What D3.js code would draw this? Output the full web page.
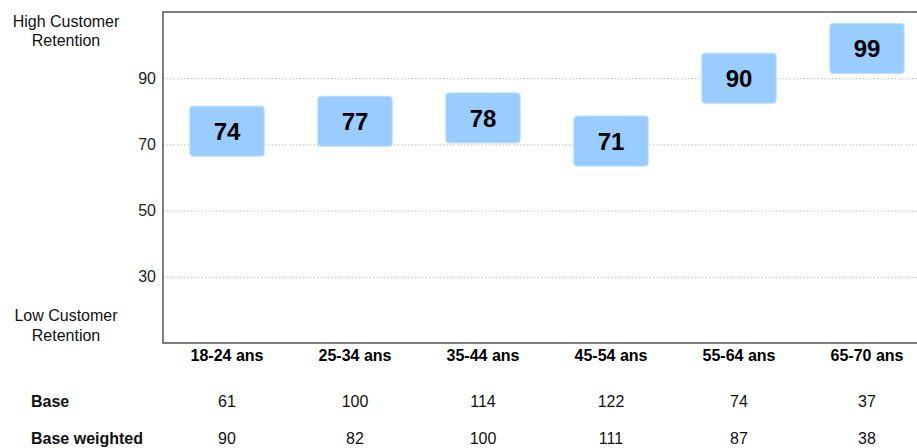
<!DOCTYPE html>
<html>
<head>
<meta charset="utf-8">
<script src="https://cdn.jsdelivr.net/npm/d3@7"></script>
<style>
  body { margin: 0; background: #fff; }
  svg { display: block; font-family: Arial, 'Liberation Sans', sans-serif; }
  .axis-y text { font-size: 16px; fill: #222; }
  .axis-x text { font-size: 16px; font-weight: bold; fill: #000; }
  .grid line { stroke: #bbb; stroke-dasharray: 1.5,2; }
  .frame { fill: none; stroke: #555; stroke-width: 1.5; }
  .box { fill: #99ccff; stroke: #b8dcff; stroke-width: 1; }
  .score { font-size: 24px; font-weight: bold; fill: #000; }
  .side-label, .row text { font-size: 16px; fill: #111; }
  .row .row-label { font-weight: bold; }
</style>
</head>
<body>
<div id="chart"></div>
<script>
const categories = ['18-24 ans', '25-34 ans', '35-44 ans', '45-54 ans', '55-64 ans', '65-70 ans'];
const scores = [74, 77, 78, 71, 90, 99];
const base = [61, 100, 114, 122, 74, 37];
const baseWeighted = [90, 82, 100, 111, 87, 38];
const yTicks = [30, 50, 70, 90];
const rowLabels = ['Base', 'Base weighted'];

const margin = {top: 12, right: 0, bottom: 105, left: 163},
      width = 768,
      height = 448 - margin.top - margin.bottom;

const boxH = 50;

const svg = d3.select('#chart').append('svg')
    .attr('width', 917)
    .attr('height', 448);

const g = svg.append('g')
    .attr('transform', `translate(${margin.left},${margin.top})`);

const x = d3.scaleBand()
    .domain(categories)
    .range([0, width]);

const y = d3.scaleLinear()
    .domain([10, 110])
    .range([height, 0]);

// dotted gridlines
g.append('g')
    .attr('class', 'grid')
    .call(d3.axisLeft(y).tickValues(yTicks).tickSize(-width).tickFormat(''))
    .call(a => a.select('.domain').remove());

g.append('g')
    .attr('class', 'axis-y')
    .call(d3.axisLeft(y).tickValues(yTicks).tickSize(0).tickPadding(7))
    .call(a => a.select('.domain').remove());

g.append('g')
    .attr('class', 'axis-x')
    .attr('transform', `translate(0,${height})`)
    .call(d3.axisBottom(x).tickSize(0).tickPadding(7))
    .call(a => a.select('.domain').remove());

g.append('rect')
    .attr('class', 'frame')
    .attr('width', width)
    .attr('height', height);

// score boxes, kept inside the plot area
const data = categories.map((c, i) => ({cat: c, value: scores[i]}));
const bw = x.bandwidth() * 0.58;

const cell = g.selectAll('g.cell')
  .data(data)
  .enter().append('g')
    .attr('class', 'cell')
    .attr('transform', d => {
      const cy = Math.max(y(d.value), boxH / 2 + 7);
      return `translate(${x(d.cat) + x.bandwidth() / 2},${cy})`;
    });

cell.append('rect')
    .attr('class', 'box')
    .attr('x', -bw / 2)
    .attr('y', -boxH / 2)
    .attr('width', bw)
    .attr('height', boxH)
    .attr('rx', 3);

cell.append('text')
    .attr('class', 'score')
    .attr('text-anchor', 'middle')
    .attr('dy', '0.36em')
    .text(d => d.value);

// side labels
const side = [
  {lines: ['High Customer', 'Retention'], y: 26.5},
  {lines: ['Low Customer', 'Retention'], y: 321}
];
side.forEach(s => {
  svg.append('text')
      .attr('class', 'side-label')
      .attr('text-anchor', 'middle')
      .attr('y', s.y)
    .selectAll('tspan')
    .data(s.lines)
    .enter().append('tspan')
      .attr('x', 66)
      .attr('dy', (d, i) => i ? 19.5 : 0)
      .text(d => d);
});

// base rows under the chart
const rows = [base, baseWeighted];
const rowY = [407, 444];
rows.forEach((vals, r) => {
  const row = svg.append('g')
      .attr('class', 'row')
      .attr('transform', `translate(0,${rowY[r]})`);
  row.append('text')
      .attr('class', 'row-label')
      .attr('x', 31)
      .text(rowLabels[r]);
  row.selectAll('text.val')
    .data(vals)
    .enter().append('text')
      .attr('class', 'val')
      .attr('text-anchor', 'middle')
      .attr('x', (d, i) => margin.left + x(categories[i]) + x.bandwidth() / 2)
      .text(d => d);
});
</script>
</body>
</html>
